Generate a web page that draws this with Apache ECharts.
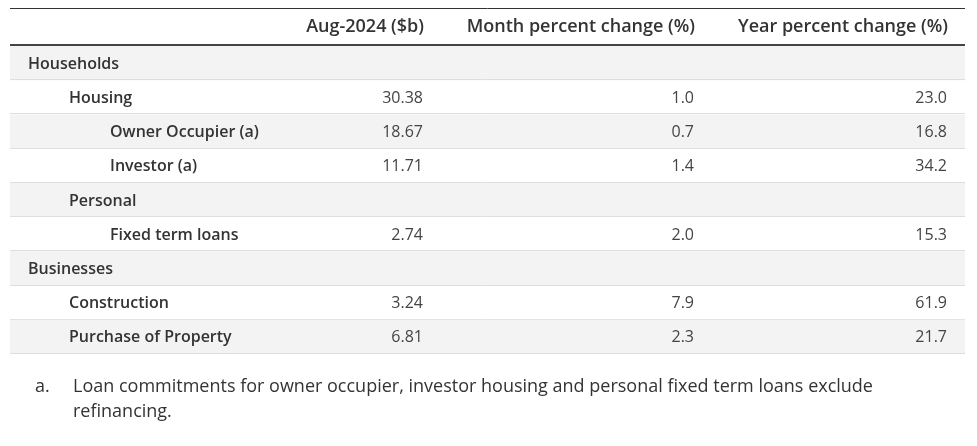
<!DOCTYPE html>
<html>
<head>
<meta charset="utf-8">
<script src="https://cdn.jsdelivr.net/npm/echarts@6/dist/echarts.min.js"></script>
<style>
html,body{margin:0;padding:0;background:#fff;}
#chart{width:977px;height:446px;}
</style>
</head>
<body>
<div id="chart"></div>
<script>
// ---- data ----
const headers = ['Aug-2024 ($b)', 'Month percent change (%)', 'Year percent change (%)'];
const rowLabels = ['Households', 'Housing', 'Owner Occupier (a)', 'Investor (a)', 'Personal', 'Fixed term loans', 'Businesses', 'Construction', 'Purchase of Property'];
const rowLevels = [0, 1, 2, 2, 1, 2, 0, 1, 1];
const augValues = [null, 30.38, 18.67, 11.71, null, 2.74, null, 3.24, 6.81];
const monthChange = [null, 1.0, 0.7, 1.4, null, 2.0, null, 7.9, 2.3];
const yearChange = [null, 23.0, 16.8, 34.2, null, 15.3, null, 61.9, 21.7];
const footnoteMark = 'a.';
const footnoteLines = ['Loan commitments for owner occupier, investor housing and personal fixed term loans exclude', 'refinancing.'];

// ---- layout ----
const FONT = '"Open Sans", "Noto Sans", sans-serif';
const colRight = [413, 684, 937];   // offsets from grid left
const decimals = [2, 1, 1];
const indentBase = 18, indentStep = 41;

const chart = echarts.init(document.getElementById('chart'), null, {renderer: 'canvas'});

const rowData = rowLabels.map((l, i) => [0, i]);

function fmt(v, d) { return v == null ? '' : v.toFixed(d); }

const option = {
  animation: false,
  backgroundColor: '#fff',
  grid: {left: 10, right: 12, top: 46, bottom: 92},
  xAxis: {type: 'value', min: 0, max: 1, show: false},
  yAxis: {type: 'category', data: rowLabels, inverse: true, show: false},
  series: [{
    type: 'custom',
    data: rowData,
    renderItem: function (params, api) {
      const idx = api.value(1);
      const cs = params.coordSys;
      const yc = api.coord([0, idx])[1];
      const h = api.size([0, 1])[1];
      const top = yc - h / 2;
      const children = [];
      if (idx % 2 === 0) {
        children.push({type: 'rect', shape: {x: cs.x, y: top, width: cs.width, height: h}, style: {fill: '#f3f3f3'}});
      }
      children.push({type: 'line', shape: {x1: cs.x, y1: Math.round(top + h) - 0.5, x2: cs.x + cs.width, y2: Math.round(top + h) - 0.5}, style: {stroke: '#dedede', lineWidth: 1}});
      children.push({type: 'text', style: {text: rowLabels[idx], x: cs.x + indentBase + rowLevels[idx] * indentStep, y: yc + 1, verticalAlign: 'middle', align: 'left', fill: '#333', font: '600 16px ' + FONT}});
      const vals = [augValues[idx], monthChange[idx], yearChange[idx]];
      vals.forEach((v, j) => {
        if (v == null) return;
        children.push({type: 'text', style: {text: fmt(v, decimals[j]), x: cs.x + colRight[j], y: yc + 1, verticalAlign: 'middle', align: 'right', fill: '#444', font: '400 16px ' + FONT}});
      });
      return {type: 'group', children: children};
    }
  }],
  graphic: [
    {type: 'line', shape: {x1: 10, y1: 8.5, x2: 965, y2: 8.5}, style: {stroke: '#333', lineWidth: 1}, silent: true},
    {type: 'line', shape: {x1: 10, y1: 45, x2: 965, y2: 45}, style: {stroke: '#444', lineWidth: 2}, silent: true, z: 10}
  ].concat(headers.map((t, j) => ({
    type: 'text', silent: true,
    style: {text: t, x: 10 + colRight[j] + 1, y: 27, align: 'right', verticalAlign: 'middle', fill: '#333', font: '600 18px ' + FONT}
  }))).concat([
    {type: 'text', silent: true, style: {text: footnoteMark, x: 35, y: 387, verticalAlign: 'middle', fill: '#333', font: '400 18px ' + FONT}},
    {type: 'text', silent: true, style: {text: footnoteLines[0], x: 73, y: 387, verticalAlign: 'middle', fill: '#333', font: '400 18px ' + FONT}},
    {type: 'text', silent: true, style: {text: footnoteLines[1], x: 73, y: 412, verticalAlign: 'middle', fill: '#333', font: '400 18px ' + FONT}}
  ])
};
chart.setOption(option);
</script>
</body>
</html>
